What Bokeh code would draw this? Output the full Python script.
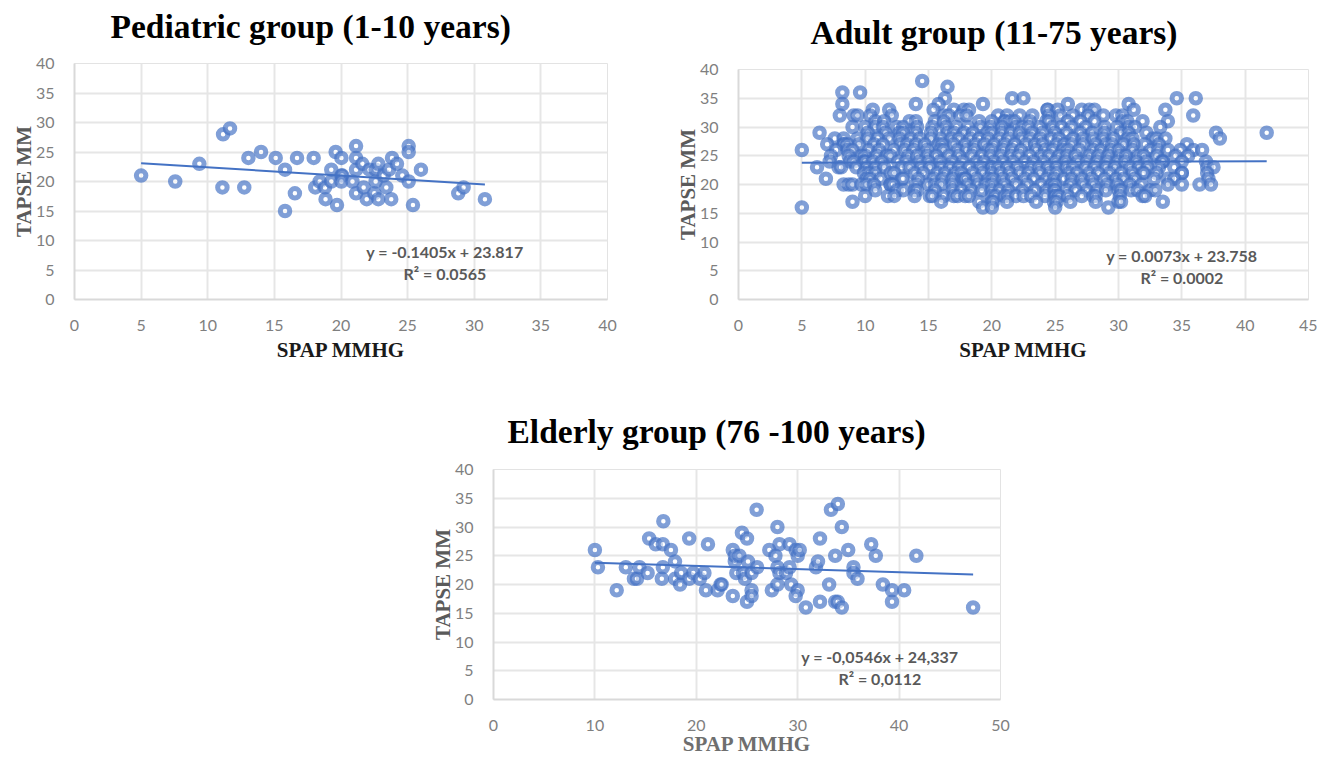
from bokeh.plotting import figure
from bokeh.layouts import column, row
from bokeh.models import Range1d, Label, FixedTicker, Spacer, Title
from bokeh.embed import file_html
from bokeh.resources import INLINE

# Pediatric group
ped_x = [5.0,7.56,9.37,11.15,11.67,11.1,12.74,13.05,14.0,15.1,15.8,15.8,16.54,16.7,17.95,18.07,18.4,18.8,18.84,19.27,19.27,19.6,19.7,20.03,20.03,20.1,20.03,20.86,21.13,21.13,21.13,21.13,21.6,21.7,21.93,22.14,22.5,22.6,22.6,22.8,22.8,23.2,23.4,23.6,23.77,23.83,24.2,24.6,25.08,25.08,25.08,25.4,26.0,28.8,29.2,30.8]
ped_y = [21,20,23,28,29,19,19,24,25,24,22,15,18,24,24,19,20,19,17,22,20,25,16,24,21,21,20,20,26,24,22,18,23,19,17,22,18,22,20,23,17,21,19,22,17,24,23,21,26,25,20,16,22,18,19,17]
ped_trend_x = [5.0, 30.8]
ped_trend_y = [23.11, 19.49]

# Elderly group
eld_x = [10.0,10.3,12.15,13.05,13.85,14.15,14.4,15.2,15.35,16.0,16.7,16.7,16.6,16.75,17.5,17.9,17.9,18.4,18.5,19.3,19.3,19.7,20.35,20.8,20.95,21.15,22.1,22.4,22.5,23.6,23.6,23.8,23.8,24.25,23.95,24.5,24.6,24.8,25.0,25.0,25.1,25.45,25.45,25.45,25.95,26.0,27.2,27.45,27.8,28.0,28.0,28.2,28.2,28.0,28.85,29.2,29.2,29.35,29.8,30.0,30.0,29.8,30.2,30.8,31.8,32.0,32.2,32.2,33.1,33.28,33.96,33.7,33.7,33.95,34.35,34.35,34.98,35.5,35.5,35.9,37.25,37.7,38.4,39.3,39.3,40.5,41.7,47.3]
eld_y = [26,23,19,23,21,21,23,22,28,27,27,23,21,31,26,24,21,20,22,28,21,22,21,22,19,27,19,20,20,26,18,24,25,25,22,29,22,21,28,17,24,22,19,18,33,23,26,19,25,23,30,27,22,20,22,27,23,20,26,25,19,18,26,16,23,24,28,17,20,33,34,25,17,17,30,16,26,23,22,21,27,25,20,19,17,19,25,16]
eld_trend_x = [10.0, 47.3]
eld_trend_y = [23.79, 21.75]

# Adult group: SPAP readings at each TAPSE level
a38 = [14.5]
a37 = [16.5]
a36 = [8.2,9.6]
a35 = [16.3,21.6,22.5,34.6,36.1]
a34 = [8.2,14.0,15.8,19.3,26.0,30.8]
a33 = [10.6,11.9,15.4,17.0,17.8,18.2,24.4,24.4,25.2,27.1,27.7,28.1,31.2,33.7]
a32 = [8.0,9.1,9.4,10.4,12.1,16.2,16.6,17.5,18.0,20.5,21.2,22.2,23.2,24.5,25.4,26.4,27.6,28.8,29.8,30.3,35.9]
a31 = [10.8,11.5,13.5,14.0,15.5,16.2,19.0,20.0,21.0,21.0,21.4,21.8,23.0,24.3,24.5,26.0,27.0,28.1,30.3,30.7,31.9,33.9]
a30 = [9.0,10.0,10.8,11.4,12.5,13.0,14.1,15.3,16.4,17.2,18.1,19.1,19.9,20.8,21.9,22.4,22.9,23.8,24.8,25.5,26.3,27.4,28.9,29.9,30.8,31.3,33.3]
a29 = [6.4,10.2,11.6,12.7,13.0,14.0,15.2,16.5,17.0,17.8,18.5,19.6,20.0,20.8,21.5,22.2,23.2,24.0,25.0,25.9,27.0,27.9,28.9,30.2,30.8,32.2,37.7,41.7]
a28 = [7.6,8.3,9.4,10.2,11.0,11.9,12.7,13.6,14.3,15.2,16.0,16.8,17.4,18.3,19.0,19.7,20.6,21.3,22.4,23.0,23.8,24.7,25.3,26.4,27.2,28.0,28.8,29.6,30.7,31.1,32.7,33.0,33.7,38.0]
a27 = [7.0,8.3,8.3,8.6,9.5,10.7,11.4,12.8,13.3,14.0,14.7,15.8,16.1,17.0,17.9,18.7,19.4,20.2,21.0,21.8,22.7,23.4,24.0,25.1,25.7,26.3,27.2,28.2,29.0,29.5,30.4,31.2,32.1,33.2,35.4]
a26 = [5.0,7.7,8.6,9.0,10.3,11.1,12.3,13.1,13.8,14.9,15.9,16.2,17.3,18.0,18.6,19.7,20.0,20.9,21.6,22.3,23.5,24.2,24.8,25.6,26.0,26.9,28.0,28.6,29.4,30.0,31.1,32.5,33.1,33.9,34.9,35.9,36.6]
a25 = [7.3,8.7,9.7,10.0,10.9,11.7,12.0,13.4,14.1,14.9,15.6,16.6,17.4,18.4,19.2,19.9,20.7,21.5,22.1,23.0,23.9,24.5,25.3,25.9,26.6,27.7,28.4,29.2,30.1,30.6,31.5,32.0,33.0,34.5,35.5]
a24 = [7.2,8.8,9.1,9.9,10.0,10.0,10.6,11.3,12.6,13.2,14.3,15.0,15.9,16.9,17.7,18.8,19.4,20.2,20.9,21.7,22.6,23.3,24.1,25.0,25.8,26.8,27.5,28.3,29.1,29.9,30.5,31.4,32.2,33.4,33.5,33.5,35.0,36.9]
a23 = [6.2,7.9,8.1,9.3,10.1,10.8,11.5,12.9,13.5,14.4,15.1,16.0,16.7,17.4,18.2,19.1,20.0,20.0,20.5,21.2,22.0,23.1,23.7,24.4,25.1,25.9,26.4,27.4,28.1,29.0,29.7,30.9,31.6,32.3,33.2,34.4,37.0,37.5]
a22 = [9.9,10.3,10.8,12.0,12.3,13.9,14.6,15.7,16.3,17.1,17.6,18.5,19.3,20.0,20.7,21.4,22.2,22.9,23.8,24.6,25.1,26.1,26.7,27.7,28.4,29.3,30.2,31.1,31.9,32.0,33.0,35.0,35.0,37.0]
a21 = [6.9,10.1,10.4,11.2,12.9,13.0,14.2,15.4,16.1,16.9,17.7,17.9,17.9,18.8,19.7,20.1,20.9,21.6,22.6,23.3,24.3,24.9,25.7,26.3,27.1,27.9,28.9,29.8,30.4,31.3,32.8,33.9,34.4,37.1]
a20 = [8.3,8.7,9.0,9.7,10.1,10.7,12.0,12.0,12.2,14.0,15.0,15.5,16.0,16.9,18.1,18.9,19.5,20.0,21.0,21.9,22.8,23.9,24.7,25.0,26.2,27.2,28.0,29.1,29.9,30.9,31.8,33.9,35.0,36.4,37.3]
a19 = [10.8,12.5,13.0,13.9,14.1,15.5,16.9,17.6,18.4,19.2,20.0,20.6,21.3,22.4,23.4,24.3,24.9,25.0,25.9,26.6,27.5,28.3,29.0,30.0,30.2,31.0,31.5,32.5,32.9]
a18 = [10.0,11.8,12.3,13.9,15.1,15.3,16.2,17.0,17.3,17.9,18.2,20.0,20.3,21.0,21.3,21.9,22.5,23.1,24.2,25.0,25.0,25.3,26.0,27.1,28.0,28.2,30.1,31.9,32.1]
a17 = [9.0,16.0,19.0,20.0,20.1,21.2,23.5,24.9,25.1,26.2,28.2,30.0,30.2,33.5]
a16 = [5.0,19.3,20.0,25.0,29.2]
adult_levels = [(38,a38),(37,a37),(36,a36),(35,a35),(34,a34),(33,a33),(32,a32),(31,a31),(30,a30),(29,a29),(28,a28),(27,a27),(26,a26),(25,a25),(24,a24),(23,a23),(22,a22),(21,a21),(20,a20),(19,a19),(18,a18),(17,a17),(16,a16)]
adult_x = [x for lvl, xs in adult_levels for x in xs]
adult_y = [lvl for lvl, xs in adult_levels for x in xs]
adult_trend_x = [5.0, 41.7]
adult_trend_y = [23.79, 24.06]

y_ticks = [0,5,10,15,20,25,30,35,40]
BLUE = "#4472C4"


def panel(title, title_off, title_sd, xs, ys, tx, ty, xmax, xticks, eq, r2, lab_x, eq_y, r2_y,
          fw, fh, w, h, left, top, xlab_col, margin, xlab_sd):
    p = figure(width=w, height=h, margin=margin,
               x_range=Range1d(0, xmax), y_range=Range1d(0, 40),
               output_backend="svg", toolbar_location=None,
               min_border_left=left, min_border_top=top,
               min_border_right=w - left - fw, min_border_bottom=h - top - fh)
    p.title = Title(text=title, text_font="Liberation Serif", text_font_style="bold",
                    text_font_size="33.5px", text_color="#000000", align="left",
                    offset=title_off, standoff=title_sd)
    p.outline_line_color = "#e3e3e3"
    p.outline_line_width = 1
    for ax, lab in ((p.xaxis[0], "SPAP MMHG"), (p.yaxis[0], "TAPSE MM")):
        ax.axis_label = lab
        ax.axis_label_text_font = "Liberation Serif"
        ax.axis_label_text_font_style = "bold"
        ax.axis_label_text_font_size = "21px"
        ax.major_label_text_font = "Lato"
        ax.major_label_text_font_size = "16px"
        ax.major_label_text_color = "#7f7f7f"
        ax.major_tick_line_color = None
        ax.minor_tick_line_color = None
        ax.axis_line_color = "#d9d9d9"
        ax.axis_line_width = 2
        ax.major_label_standoff = 14
    p.xaxis[0].ticker = FixedTicker(ticks=xticks)
    p.yaxis[0].ticker = FixedTicker(ticks=y_ticks)
    p.xaxis[0].axis_label_text_color = xlab_col
    p.yaxis[0].axis_label_text_color = "#5a5a5a"
    p.xaxis[0].axis_label_standoff = xlab_sd
    p.yaxis[0].axis_label_standoff = -3
    p.grid.grid_line_color = "#e6e6e6"
    p.grid.grid_line_width = 2
    p.xgrid[0].ticker = FixedTicker(ticks=xticks)
    p.ygrid[0].ticker = FixedTicker(ticks=y_ticks)
    p.scatter(xs, ys, marker="circle", size=9.5, line_width=5, line_color=BLUE, line_alpha=0.68,
              fill_color="white", fill_alpha=0.55)
    p.line(tx, ty, line_color=BLUE, line_width=2)
    for txt, yy in ((eq, eq_y), (r2, r2_y)):
        p.add_layout(Label(x=lab_x, y=yy, text=txt, text_font="Lato", text_font_style="bold",
                           text_font_size="16px", text_color="#595959",
                           text_align="center", text_baseline="middle"))
    return p


p1 = panel("Pediatric group (1-10 years)", 36, 38, ped_x, ped_y, ped_trend_x, ped_trend_y, 40,
           [0,5,10,15,20,25,30,35,40], "y = -0.1405x + 23.817", "R² = 0.0565", 27.8, 8.1, 4.4,
           533, 236, 640, 382, 74, 81, "#1a1a1a", (-18, 0, 0, 0), 4)
p2 = panel("Adult group (11-75 years)", 72, 38, adult_x, adult_y, adult_trend_x, adult_trend_y, 45,
           [0,5,10,15,20,25,30,35,40,45], "y = 0.0073x + 23.758", "R² = 0.0002", 35.0, 7.65, 3.85,
           570, 230, 677, 376, 98, 81, "#1a1a1a", (-12, 0, 0, 0), 4)
p3 = panel("Elderly group (76 -100 years)", 14, 40, eld_x, eld_y, eld_trend_x, eld_trend_y, 50,
           [0,10,20,30,40,50], "y = -0,0546x + 24,337", "R² = 0,0112", 38.1, 7.5, 3.65,
           507, 230, 600, 394, 73, 105, "#6e6e6e", (0, 0, 0, 0), -2)

top_row = row(p1, p2, spacing=0)
bottom_row = row(Spacer(width=420, height=394), p3, spacing=0)
layout = column(top_row, bottom_row, spacing=0)
open("out.html", "w").write(file_html(layout, INLINE))
